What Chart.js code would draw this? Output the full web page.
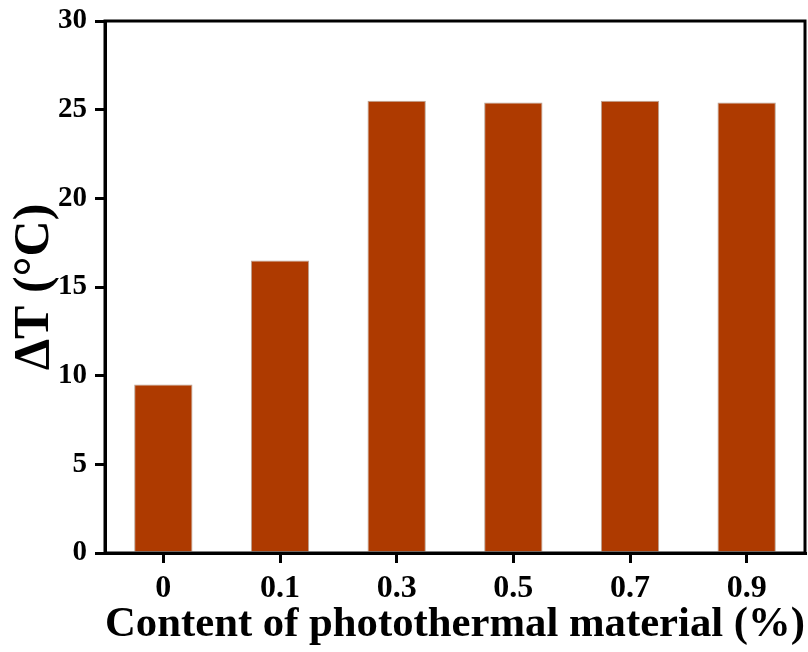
<!DOCTYPE html>
<html>
<head>
<meta charset="utf-8">
<script src="https://cdn.jsdelivr.net/npm/chart.js@4.4.0/dist/chart.umd.min.js"></script>
<style>
  html, body { margin: 0; padding: 0; background: #fff; }
  #wrap { width: 808px; height: 652px; }
</style>
</head>
<body>
<div id="wrap"><canvas id="myChart" width="808" height="652"></canvas></div>
<script>
var contents = ["0", "0.1", "0.3", "0.5", "0.7", "0.9"];
var deltaT = [9.5, 16.5, 25.5, 25.4, 25.5, 25.4];
var yMin = 0, yMax = 30, yStep = 5;

var serif = "'Liberation Serif', 'Times New Roman', serif";

// box around the plot area
var frame = {
  id: "frame",
  afterDraw: function (chart) {
    var a = chart.chartArea, c = chart.ctx;
    c.save();
    c.strokeStyle = "#000";
    c.lineWidth = 3;
    c.strokeRect(a.left, a.top, a.right - a.left, a.bottom - a.top);
    c.restore();
  }
};

var ctx = document.getElementById("myChart");
var myChart = new Chart(ctx, {
  type: "bar",
  data: {
    labels: contents,
    datasets: [
      {
        data: deltaT,
        backgroundColor: "#AE3A00",
        borderColor: "#b9a596",
        borderWidth: 1,
        categoryPercentage: 1,
        barPercentage: 0.5,
      },
    ],
  },
  plugins: [frame],
  options: {
    responsive: false,
    animation: false,
    layout: { padding: { top: 21, right: 3, left: 0, bottom: 0 } },
    plugins: {
      legend: { display: false },
      tooltip: { enabled: false },
    },
    scales: {
      x: {
        grid: { drawOnChartArea: false, offset: false, color: "#000", lineWidth: 3, tickLength: 10 },
        border: { color: "#000", width: 3 },
        ticks: { color: "#000", padding: 7, font: { family: serif, size: 32, weight: "bold" } },
        title: {
          display: true,
          text: "Content of photothermal material (%)",
          color: "#000",
          font: { family: serif, size: 43, weight: "bold" },
          padding: { top: 0, bottom: 1 },
        },
        afterFit: function (s) { s.height = 99; },
      },
      y: {
        min: yMin,
        max: yMax,
        grid: { drawOnChartArea: false, color: "#000", lineWidth: 3, tickLength: 10 },
        border: { color: "#000", width: 3 },
        ticks: { stepSize: yStep, color: "#000", padding: 8, font: { family: serif, size: 29, weight: "bold", lineHeight: 0.85 } },
        title: {
          display: true,
          text: "\u0394T (\u00B0C)",
          color: "#000",
          font: { family: serif, size: 50, weight: "bold" },
          padding: { top: 5, bottom: 0 },
        },
        afterFit: function (s) { s.width = 105; },
      },
    },
  },
});
</script>
</body>
</html>
